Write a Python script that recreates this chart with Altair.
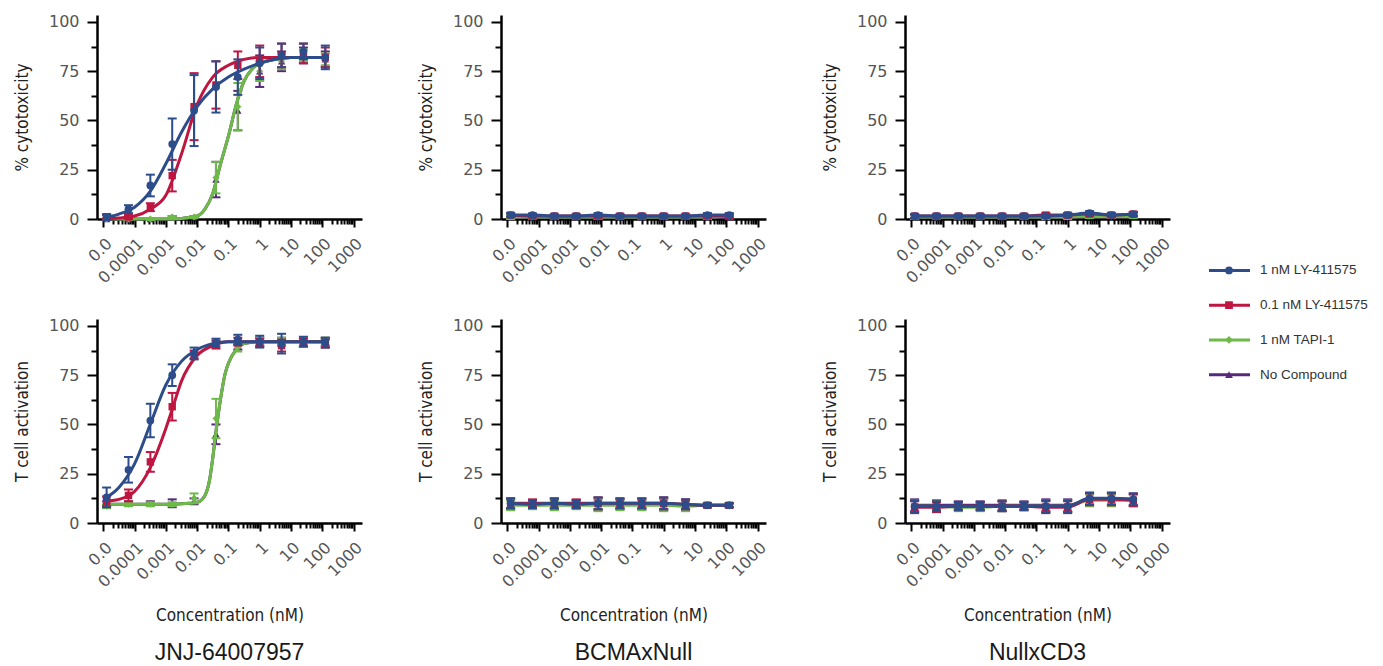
import altair as alt
import pandas as pd

# ---------------- data ----------------
conc_nM = [1.28e-5, 6.4e-5, 3.2e-4, 1.6e-3, 8e-3, 0.04, 0.2, 1, 5, 25, 125]
series_keys = ["ly1", "ly01", "tapi", "none"]
series_names = ["1 nM LY-411575", "0.1 nM LY-411575", "1 nM TAPI-1", "No Compound"]
series_colors = ["#2C4C8A", "#BE1640", "#6DBA48", "#56297A"]
series_shapes = ["circle", "square", "diamond", "triangle-up"]
column_titles = ["JNJ-64007957", "BCMAxNull", "NullxCD3"]
row_titles = ["% cytotoxicity", "T cell activation"]
x_title = "Concentration (nM)"

# JNJ-64007957, % cytotoxicity (means / SD)
cyto_jnj_ly1 = [1, 5, 17, 38, 55, 67, 72, 79, 83, 85, 82]
cyto_jnj_ly1_sd = [1.5, 2, 5.5, 13, 18, 13, 9, 8, 6, 4, 6]
cyto_jnj_ly01 = [1, 1, 6, 22, 57, 68, 78, 80, 83, 84, 82]
cyto_jnj_ly01_sd = [1, 1, 2, 8, 17, 12, 7, 8, 6, 5, 5]
cyto_jnj_tapi = [0, 0, 0, 1, 1, 21, 57, 75, 80, 83, 81]
cyto_jnj_tapi_sd = [0.5, 0.5, 0.5, 0.5, 0.5, 8, 12, 5, 4, 3, 3]
cyto_jnj_none = [0, 0, 0, 1, 1, 20, 55, 75, 80, 83, 81]
cyto_jnj_none_sd = [0.5, 0.5, 0.5, 0.5, 0.5, 9, 10, 8, 5, 4, 4]

# fitted curves (x as log10 nM)
cyto_fit_logx = [-5, -4.5, -4, -3.5, -3, -2.5, -2, -1.5, -1, -0.5, 0, 0.5, 1, 1.5, 2.1]
cyto_fit_ly1 = [0.5, 2.5, 6, 14, 28, 44, 57, 66, 72, 76, 79, 81, 82, 82, 82]
cyto_fit_ly01 = [0, 0.5, 1.5, 5, 12, 33, 58, 72, 78, 81, 82, 82, 82, 82, 82]
cyto_fit_tapi_logx = [-5, -4, -3, -2.5, -2, -1.75, -1.5, -1.25, -1, -0.75, -0.5, -0.25, 0, 0.5, 1, 1.5, 2.1]
cyto_fit_tapi = [0, 0, 0, 0.3, 1.5, 5, 13, 28, 42, 58, 70, 76, 79, 81, 82, 82, 82]
cyto_fit_none = [0, 0, 0, 0.3, 1.5, 5, 13, 28, 42, 58, 70, 76, 79, 81, 82, 82, 82]

# JNJ-64007957, T cell activation
tcell_jnj_ly1 = [13, 27, 52, 75, 86, 91.5, 93, 92, 91, 92, 91.5]
tcell_jnj_ly1_sd = [5, 6.5, 8.5, 5.5, 3, 2, 2.5, 3, 5, 2.5, 2.5]
tcell_jnj_ly01 = [11, 14, 31, 59, 85.5, 90.5, 92, 91.5, 90, 91.5, 91]
tcell_jnj_ly01_sd = [2.5, 3, 5, 7, 2, 2, 2, 2, 3, 2, 2]
tcell_jnj_tapi = [8.5, 9.5, 9.5, 9.5, 12.5, 53, 89, 92, 92, 92, 92]
tcell_jnj_tapi_sd = [1, 1, 1, 1, 2.5, 10, 2, 2, 2, 2, 2]
tcell_jnj_none = [10, 10, 10, 10, 11, 45, 90, 92, 92, 92, 92]
tcell_jnj_none_sd = [1, 1, 1, 2, 1.5, 5, 2, 2, 2, 2, 2]

tcell_fit_ly1_logx = [-5, -4.5, -4, -3.5, -3, -2.5, -2, -1.5, -1, -0.5, 0, 1, 2.1]
tcell_fit_ly1 = [12, 18, 30, 50, 70, 82, 88, 91, 92, 92, 92, 92, 92]
tcell_fit_ly01_logx = [-5, -4.5, -4, -3.5, -3, -2.75, -2.5, -2, -1.5, -1, -0.5, 0, 1, 2.1]
tcell_fit_ly01 = [11, 12, 16, 28, 48, 60, 72, 85, 90, 92, 92, 92, 92, 92]
tcell_fit_tapi_logx = [-5, -4, -3, -2.25, -2, -1.75, -1.6, -1.5, -1.4, -1.25, -1.1, -1, -0.75, -0.5, 0, 1, 2.1]
tcell_fit_tapi = [9.5, 9.5, 9.5, 10, 10.5, 14, 22, 33, 46, 63, 76, 81, 88, 91, 92, 92, 92]
tcell_fit_none = [9.5, 9.5, 9.5, 10, 10.5, 14, 22, 33, 46, 63, 76, 81, 88, 91, 92, 92, 92]

# BCMAxNull
cyto_bcma_ly1 = [2, 2, 1.5, 1.5, 2, 1.5, 1.5, 1.5, 1.5, 2, 2]
cyto_bcma_ly01 = [2, 1.5, 1.5, 1.5, 1.5, 1.5, 1.5, 1.5, 1.5, 1.5, 1.5]
cyto_bcma_tapi = [1, 1, 1, 1, 1, 1, 1, 1, 1, 1, 1.5]
cyto_bcma_none = [1, 1, 1, 1, 1, 1, 1, 1, 1, 1, 1]
cyto_bcma_sd = [1, 0.8, 0.8, 0.8, 1, 0.8, 0.8, 0.8, 0.8, 1, 1]
tcell_bcma_ly1 = [10, 9.5, 10, 9.5, 10, 10, 10, 10, 9.5, 9, 9]
tcell_bcma_ly01 = [10, 10, 10, 10, 10, 10, 10, 10, 9.5, 9, 9]
tcell_bcma_tapi = [9, 9, 9, 9, 9, 9, 9, 9, 8.5, 9, 9]
tcell_bcma_none = [9.5, 9.5, 9.5, 9.5, 9.5, 9.5, 9.5, 9.5, 9, 9, 9]
tcell_bcma_sd = [2.5, 2, 2.5, 2, 3, 2.5, 2.5, 3, 2.5, 1, 1]

# NullxCD3
cyto_null_ly1 = [1.5, 1.5, 1.5, 1.5, 1.5, 1.5, 1.5, 2, 3, 2, 2.5]
cyto_null_ly01 = [1.5, 1.5, 1.5, 1.5, 1.5, 1.5, 2, 2, 2.5, 2, 2.5]
cyto_null_tapi = [1, 1, 1, 1, 1, 1, 1, 1, 1.5, 1.5, 1.5]
cyto_null_none = [1, 1, 1, 1, 1, 1, 1, 1, 1.5, 1.5, 1.5]
cyto_null_sd = [1, 0.8, 0.8, 0.8, 0.8, 0.8, 1, 1, 1, 1, 1]
tcell_null_ly1 = [8.5, 8.5, 8.5, 8.5, 8.5, 8.5, 8.5, 8.5, 12.5, 12.5, 12]
tcell_null_ly01 = [8, 8, 8.5, 8.5, 8.5, 8.5, 8, 8, 12, 12, 11.5]
tcell_null_tapi = [8.5, 8.5, 8, 8, 8.5, 8.5, 8.5, 8.5, 11.5, 11.5, 11.5]
tcell_null_none = [9, 9, 9, 9, 9, 9, 9, 9, 12, 12, 12]
tcell_null_sd = [3, 2.5, 2, 2, 2.5, 2, 3, 3, 3, 3, 3]

# ---------------- helpers ----------------
def pts_df(means, sds):
    return pd.DataFrame({"conc": conc_nM, "mean": means,
                         "lo": [m - s for m, s in zip(means, sds)],
                         "hi": [m + s for m, s in zip(means, sds)]})

def curve_df(logx, vals):
    return pd.DataFrame({"conc": [10.0 ** v for v in logx], "val": vals})

def means_curve(means):
    return pd.DataFrame({"conc": conc_nM, "val": means})

PW, PH = 265, 204
xscale = alt.Scale(type="log", domain=[10 ** -5.2, 10 ** 3.27], nice=False)
yscale = alt.Scale(domain=[0, 103.5], nice=False, zero=False)

majors = [10.0 ** d for d in range(-5, 4)]
minors = [k * 10.0 ** d for d in range(-5, 3) for k in range(2, 10)]
x_tick_values = sorted(majors + minors)
is_major = "abs(log(datum.value)/LN10 - round(log(datum.value)/LN10)) < 0.01"
x_label_expr = ("datum.value < 2e-5 ? '0.0' : (" + is_major +
                " ? format(datum.value, '~g') : '')")
y_tick_values = [0, 12.5, 25, 37.5, 50, 62.5, 75, 87.5, 100]

TITLE_FONT = "DejaVu Sans Condensed, sans-serif"

def make_x_axis(title):
    kw = dict(values=x_tick_values, labelExpr=x_label_expr, labelAngle=-45,
              labelOverlap=False, labelFlush=False, labelPadding=8,
              tickSize={"condition": {"test": is_major, "value": 8}, "value": 5},
              titlePadding=18)
    kw["title"] = title if title else None
    return alt.Axis(**kw)

def make_y_axis(title):
    return alt.Axis(values=y_tick_values, title=title,
                    labelExpr="datum.value % 25 === 0 ? datum.label : ''",
                    tickSize={"condition": {"test": "datum.value % 25 === 0", "value": 10}, "value": 6},
                    labelPadding=8, titlePadding=17)

def panel(point_data, curve_data, ytitle, xtitle=None, coltitle=None):
    xax = make_x_axis(xtitle)
    yax = make_y_axis(ytitle)
    X = alt.X("conc:Q", scale=xscale, axis=xax)
    layers = []
    order = ["none", "tapi", "ly01", "ly1"]
    for key in order:
        i = series_keys.index(key)
        col = series_colors[i]
        shp = series_shapes[i]
        pdf = point_data[key]
        cdf = curve_data[key]
        layers.append(alt.Chart(cdf).mark_line(color=col, strokeWidth=3, interpolate="monotone").encode(
            x=X, y=alt.Y("val:Q", scale=yscale, axis=yax)))
        layers.append(alt.Chart(pdf).mark_rule(color=col, strokeWidth=2).encode(
            x=X, y=alt.Y("lo:Q", scale=yscale, axis=yax), y2="hi:Q"))
        for f in ["lo", "hi"]:
            layers.append(alt.Chart(pdf).mark_tick(color=col, thickness=2, size=9, orient="horizontal", opacity=1).encode(
                x=X, y=alt.Y(f + ":Q", scale=yscale, axis=yax)))
        psize = {"circle": 60, "square": 55, "diamond": 50, "triangle-up": 55}[shp]
        layers.append(alt.Chart(pdf).mark_point(shape=shp, filled=True, opacity=1, color=col, size=psize).encode(
            x=X, y=alt.Y("mean:Q", scale=yscale, axis=yax)))
    props = dict(width=PW, height=PH)
    if coltitle:
        props["title"] = alt.TitleParams(coltitle, orient="bottom", anchor="middle", frame="group",
                                         fontSize=23, font="Liberation Sans", fontWeight="normal",
                                         color="#1a1a1a", offset=18)
    return alt.layer(*layers).properties(**props)

# ---------------- panels ----------------
p_cyto_jnj = panel(
    {"ly1": pts_df(cyto_jnj_ly1, cyto_jnj_ly1_sd), "ly01": pts_df(cyto_jnj_ly01, cyto_jnj_ly01_sd),
     "tapi": pts_df(cyto_jnj_tapi, cyto_jnj_tapi_sd), "none": pts_df(cyto_jnj_none, cyto_jnj_none_sd)},
    {"ly1": curve_df(cyto_fit_logx, cyto_fit_ly1), "ly01": curve_df(cyto_fit_logx, cyto_fit_ly01),
     "tapi": curve_df(cyto_fit_tapi_logx, cyto_fit_tapi), "none": curve_df(cyto_fit_tapi_logx, cyto_fit_none)},
    row_titles[0])
p_cyto_bcma = panel(
    {"ly1": pts_df(cyto_bcma_ly1, cyto_bcma_sd), "ly01": pts_df(cyto_bcma_ly01, cyto_bcma_sd),
     "tapi": pts_df(cyto_bcma_tapi, cyto_bcma_sd), "none": pts_df(cyto_bcma_none, cyto_bcma_sd)},
    {"ly1": means_curve(cyto_bcma_ly1), "ly01": means_curve(cyto_bcma_ly01),
     "tapi": means_curve(cyto_bcma_tapi), "none": means_curve(cyto_bcma_none)},
    row_titles[0])
p_cyto_null = panel(
    {"ly1": pts_df(cyto_null_ly1, cyto_null_sd), "ly01": pts_df(cyto_null_ly01, cyto_null_sd),
     "tapi": pts_df(cyto_null_tapi, cyto_null_sd), "none": pts_df(cyto_null_none, cyto_null_sd)},
    {"ly1": means_curve(cyto_null_ly1), "ly01": means_curve(cyto_null_ly01),
     "tapi": means_curve(cyto_null_tapi), "none": means_curve(cyto_null_none)},
    row_titles[0])
p_tcell_jnj = panel(
    {"ly1": pts_df(tcell_jnj_ly1, tcell_jnj_ly1_sd), "ly01": pts_df(tcell_jnj_ly01, tcell_jnj_ly01_sd),
     "tapi": pts_df(tcell_jnj_tapi, tcell_jnj_tapi_sd), "none": pts_df(tcell_jnj_none, tcell_jnj_none_sd)},
    {"ly1": curve_df(tcell_fit_ly1_logx, tcell_fit_ly1), "ly01": curve_df(tcell_fit_ly01_logx, tcell_fit_ly01),
     "tapi": curve_df(tcell_fit_tapi_logx, tcell_fit_tapi), "none": curve_df(tcell_fit_tapi_logx, tcell_fit_none)},
    row_titles[1], x_title, column_titles[0])
p_tcell_bcma = panel(
    {"ly1": pts_df(tcell_bcma_ly1, tcell_bcma_sd), "ly01": pts_df(tcell_bcma_ly01, tcell_bcma_sd),
     "tapi": pts_df(tcell_bcma_tapi, tcell_bcma_sd), "none": pts_df(tcell_bcma_none, tcell_bcma_sd)},
    {"ly1": means_curve(tcell_bcma_ly1), "ly01": means_curve(tcell_bcma_ly01),
     "tapi": means_curve(tcell_bcma_tapi), "none": means_curve(tcell_bcma_none)},
    row_titles[1], x_title, column_titles[1])
p_tcell_null = panel(
    {"ly1": pts_df(tcell_null_ly1, tcell_null_sd), "ly01": pts_df(tcell_null_ly01, tcell_null_sd),
     "tapi": pts_df(tcell_null_tapi, tcell_null_sd), "none": pts_df(tcell_null_none, tcell_null_sd)},
    {"ly1": means_curve(tcell_null_ly1), "ly01": means_curve(tcell_null_ly01),
     "tapi": means_curve(tcell_null_tapi), "none": means_curve(tcell_null_none)},
    row_titles[1], x_title, column_titles[2])

# ---------------- legend ----------------
legend_df = pd.DataFrame({"name": series_names})
leg_y = alt.Y("name:N", sort=series_names, axis=None, scale=alt.Scale(range=[238, 377]))
leg_color = alt.Color("name:N", scale=alt.Scale(domain=series_names, range=series_colors), legend=None)
leg_shape = alt.Shape("name:N", scale=alt.Scale(domain=series_names, range=series_shapes), legend=None)
leg_base = alt.Chart(legend_df)
legend = alt.layer(
    leg_base.mark_rule(strokeWidth=3).encode(x=alt.value(0), x2=alt.value(41), y=leg_y, color=leg_color),
    leg_base.mark_point(filled=True, opacity=1, size=60).encode(x=alt.value(20), y=leg_y, color=leg_color, shape=leg_shape),
    leg_base.mark_text(align="left", baseline="middle", font="Liberation Sans", fontSize=13.5, color="#333").encode(
        x=alt.value(51), y=leg_y, text="name:N"),
).properties(width=150, height=390)

grid = alt.vconcat(
    alt.hconcat(p_cyto_jnj, p_cyto_bcma, p_cyto_null, spacing=52),
    alt.hconcat(p_tcell_jnj, p_tcell_bcma, p_tcell_null, spacing=52),
    spacing=31,
)

chart = alt.hconcat(grid, legend, spacing=34).configure_view(stroke=None).configure_axis(
    domainColor="black", domainWidth=2.5, tickColor="black", tickWidth=2,
    labelColor="#555555", labelFont="DejaVu Sans", labelFontSize=16,
    titleFont=TITLE_FONT, titleFontSize=17, titleFontWeight="normal", titleColor="#222222",
    grid=False,
).configure_concat(spacing=0)

chart.save("out.html", embed_options={"renderer": "svg", "actions": False})
